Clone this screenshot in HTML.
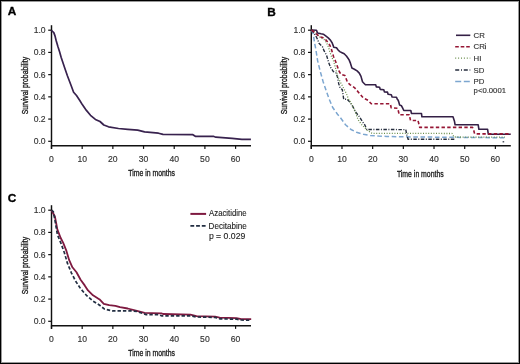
<!DOCTYPE html>
<html><head><meta charset="utf-8"><style>
html,body{margin:0;padding:0;background:#fff;}
body{width:520px;height:364px;overflow:hidden;position:relative;}
svg{position:absolute;left:0;top:0;display:block;will-change:transform;}
.tk{font-family:"Liberation Sans", sans-serif;font-size:8.6px;fill:#333;stroke:#333;stroke-width:0.15px;}
.ti{font-family:"Liberation Sans", sans-serif;font-size:9.7px;fill:#1a1a1a;stroke:#1a1a1a;stroke-width:0.34px;}
.lg{font-family:"Liberation Sans", sans-serif;font-size:7.8px;fill:#333;stroke:#333;stroke-width:0.15px;}
.lg2{font-family:"Liberation Sans", sans-serif;font-size:8.4px;fill:#222;stroke:#222;stroke-width:0.12px;}
.ty{font-size:9px;}
.lab{font-family:"Liberation Sans", sans-serif;font-size:11.8px;font-weight:bold;fill:#000;stroke:#000;stroke-width:0.35px;}
</style></head><body>
<svg width="520" height="364" viewBox="0 0 520 364">
<text x="7.7" y="15.4" class="lab">A</text>
<text x="267.3" y="15.6" class="lab">B</text>
<text x="7.8" y="201.8" class="lab">C</text>
<line x1="51.5" y1="25.2" x2="51.5" y2="148.9" stroke="#111" stroke-width="1.45"/>
<line x1="50.9" y1="145.8" x2="251.0" y2="145.8" stroke="#111" stroke-width="1.6"/>
<line x1="48.2" y1="141.30" x2="51.5" y2="141.30" stroke="#111" stroke-width="1.2"/>
<text x="45.6" y="144.30" text-anchor="end" class="tk">0.0</text>
<line x1="48.2" y1="119.08" x2="51.5" y2="119.08" stroke="#111" stroke-width="1.2"/>
<text x="45.6" y="122.08" text-anchor="end" class="tk">0.2</text>
<line x1="48.2" y1="96.86" x2="51.5" y2="96.86" stroke="#111" stroke-width="1.2"/>
<text x="45.6" y="99.86" text-anchor="end" class="tk">0.4</text>
<line x1="48.2" y1="74.64" x2="51.5" y2="74.64" stroke="#111" stroke-width="1.2"/>
<text x="45.6" y="77.64" text-anchor="end" class="tk">0.6</text>
<line x1="48.2" y1="52.42" x2="51.5" y2="52.42" stroke="#111" stroke-width="1.2"/>
<text x="45.6" y="55.42" text-anchor="end" class="tk">0.8</text>
<line x1="48.2" y1="30.20" x2="51.5" y2="30.20" stroke="#111" stroke-width="1.2"/>
<text x="45.6" y="33.20" text-anchor="end" class="tk">1.0</text>
<line x1="51.50" y1="145.8" x2="51.50" y2="148.9" stroke="#111" stroke-width="1.2"/>
<text x="51.50" y="161.50" text-anchor="middle" class="tk">0</text>
<line x1="82.18" y1="145.8" x2="82.18" y2="148.9" stroke="#111" stroke-width="1.2"/>
<text x="82.18" y="161.50" text-anchor="middle" class="tk">10</text>
<line x1="112.86" y1="145.8" x2="112.86" y2="148.9" stroke="#111" stroke-width="1.2"/>
<text x="112.86" y="161.50" text-anchor="middle" class="tk">20</text>
<line x1="143.54" y1="145.8" x2="143.54" y2="148.9" stroke="#111" stroke-width="1.2"/>
<text x="143.54" y="161.50" text-anchor="middle" class="tk">30</text>
<line x1="174.22" y1="145.8" x2="174.22" y2="148.9" stroke="#111" stroke-width="1.2"/>
<text x="174.22" y="161.50" text-anchor="middle" class="tk">40</text>
<line x1="204.90" y1="145.8" x2="204.90" y2="148.9" stroke="#111" stroke-width="1.2"/>
<text x="204.90" y="161.50" text-anchor="middle" class="tk">50</text>
<line x1="235.58" y1="145.8" x2="235.58" y2="148.9" stroke="#111" stroke-width="1.2"/>
<text x="235.58" y="161.50" text-anchor="middle" class="tk">60</text>
<text x="128.2" y="175.5" class="ti" textLength="46.8" lengthAdjust="spacingAndGlyphs">Time in months</text>
<text transform="translate(27.6,114.2) rotate(-90)" class="ti ty" textLength="57.3" lengthAdjust="spacingAndGlyphs">Survival probability</text>
<line x1="311.3" y1="25.2" x2="311.3" y2="148.9" stroke="#111" stroke-width="1.45"/>
<line x1="310.7" y1="145.8" x2="510.8" y2="145.8" stroke="#111" stroke-width="1.6"/>
<line x1="308.0" y1="141.30" x2="311.3" y2="141.30" stroke="#111" stroke-width="1.2"/>
<text x="305.40000000000003" y="144.30" text-anchor="end" class="tk">0.0</text>
<line x1="308.0" y1="119.08" x2="311.3" y2="119.08" stroke="#111" stroke-width="1.2"/>
<text x="305.40000000000003" y="122.08" text-anchor="end" class="tk">0.2</text>
<line x1="308.0" y1="96.86" x2="311.3" y2="96.86" stroke="#111" stroke-width="1.2"/>
<text x="305.40000000000003" y="99.86" text-anchor="end" class="tk">0.4</text>
<line x1="308.0" y1="74.64" x2="311.3" y2="74.64" stroke="#111" stroke-width="1.2"/>
<text x="305.40000000000003" y="77.64" text-anchor="end" class="tk">0.6</text>
<line x1="308.0" y1="52.42" x2="311.3" y2="52.42" stroke="#111" stroke-width="1.2"/>
<text x="305.40000000000003" y="55.42" text-anchor="end" class="tk">0.8</text>
<line x1="308.0" y1="30.20" x2="311.3" y2="30.20" stroke="#111" stroke-width="1.2"/>
<text x="305.40000000000003" y="33.20" text-anchor="end" class="tk">1.0</text>
<line x1="311.30" y1="145.8" x2="311.30" y2="148.9" stroke="#111" stroke-width="1.2"/>
<text x="311.30" y="161.50" text-anchor="middle" class="tk">0</text>
<line x1="341.98" y1="145.8" x2="341.98" y2="148.9" stroke="#111" stroke-width="1.2"/>
<text x="341.98" y="161.50" text-anchor="middle" class="tk">10</text>
<line x1="372.66" y1="145.8" x2="372.66" y2="148.9" stroke="#111" stroke-width="1.2"/>
<text x="372.66" y="161.50" text-anchor="middle" class="tk">20</text>
<line x1="403.34" y1="145.8" x2="403.34" y2="148.9" stroke="#111" stroke-width="1.2"/>
<text x="403.34" y="161.50" text-anchor="middle" class="tk">30</text>
<line x1="434.02" y1="145.8" x2="434.02" y2="148.9" stroke="#111" stroke-width="1.2"/>
<text x="434.02" y="161.50" text-anchor="middle" class="tk">40</text>
<line x1="464.70" y1="145.8" x2="464.70" y2="148.9" stroke="#111" stroke-width="1.2"/>
<text x="464.70" y="161.50" text-anchor="middle" class="tk">50</text>
<line x1="495.38" y1="145.8" x2="495.38" y2="148.9" stroke="#111" stroke-width="1.2"/>
<text x="495.38" y="161.50" text-anchor="middle" class="tk">60</text>
<text x="396.9" y="177.4" class="ti" textLength="46.8" lengthAdjust="spacingAndGlyphs">Time in months</text>
<text transform="translate(287.40000000000003,114.2) rotate(-90)" class="ti ty" textLength="57.3" lengthAdjust="spacingAndGlyphs">Survival probability</text>
<line x1="51.5" y1="205.2" x2="51.5" y2="328.9" stroke="#111" stroke-width="1.45"/>
<line x1="50.9" y1="325.8" x2="251.0" y2="325.8" stroke="#111" stroke-width="1.6"/>
<line x1="48.2" y1="321.30" x2="51.5" y2="321.30" stroke="#111" stroke-width="1.2"/>
<text x="45.6" y="324.30" text-anchor="end" class="tk">0.0</text>
<line x1="48.2" y1="299.08" x2="51.5" y2="299.08" stroke="#111" stroke-width="1.2"/>
<text x="45.6" y="302.08" text-anchor="end" class="tk">0.2</text>
<line x1="48.2" y1="276.86" x2="51.5" y2="276.86" stroke="#111" stroke-width="1.2"/>
<text x="45.6" y="279.86" text-anchor="end" class="tk">0.4</text>
<line x1="48.2" y1="254.64" x2="51.5" y2="254.64" stroke="#111" stroke-width="1.2"/>
<text x="45.6" y="257.64" text-anchor="end" class="tk">0.6</text>
<line x1="48.2" y1="232.42" x2="51.5" y2="232.42" stroke="#111" stroke-width="1.2"/>
<text x="45.6" y="235.42" text-anchor="end" class="tk">0.8</text>
<line x1="48.2" y1="210.20" x2="51.5" y2="210.20" stroke="#111" stroke-width="1.2"/>
<text x="45.6" y="213.20" text-anchor="end" class="tk">1.0</text>
<line x1="51.50" y1="325.8" x2="51.50" y2="328.9" stroke="#111" stroke-width="1.2"/>
<text x="51.50" y="341.50" text-anchor="middle" class="tk">0</text>
<line x1="82.18" y1="325.8" x2="82.18" y2="328.9" stroke="#111" stroke-width="1.2"/>
<text x="82.18" y="341.50" text-anchor="middle" class="tk">10</text>
<line x1="112.86" y1="325.8" x2="112.86" y2="328.9" stroke="#111" stroke-width="1.2"/>
<text x="112.86" y="341.50" text-anchor="middle" class="tk">20</text>
<line x1="143.54" y1="325.8" x2="143.54" y2="328.9" stroke="#111" stroke-width="1.2"/>
<text x="143.54" y="341.50" text-anchor="middle" class="tk">30</text>
<line x1="174.22" y1="325.8" x2="174.22" y2="328.9" stroke="#111" stroke-width="1.2"/>
<text x="174.22" y="341.50" text-anchor="middle" class="tk">40</text>
<line x1="204.90" y1="325.8" x2="204.90" y2="328.9" stroke="#111" stroke-width="1.2"/>
<text x="204.90" y="341.50" text-anchor="middle" class="tk">50</text>
<line x1="235.58" y1="325.8" x2="235.58" y2="328.9" stroke="#111" stroke-width="1.2"/>
<text x="235.58" y="341.50" text-anchor="middle" class="tk">60</text>
<text x="128.2" y="355.5" class="ti" textLength="46.8" lengthAdjust="spacingAndGlyphs">Time in months</text>
<text transform="translate(27.6,294.2) rotate(-90)" class="ti ty" textLength="57.3" lengthAdjust="spacingAndGlyphs">Survival probability</text>
<polyline points="51.5,30.2 52.1,31.0 53.8,32.6 55.0,35.9 56.2,40.8 57.9,46.6 59.5,51.6 61.2,57.5 64.9,68.5 67.4,75.8 71.3,86.0 73.6,92.2 76.5,95.5 79.8,100.5 82.3,104.6 86.4,110.4 90.5,115.3 95.4,119.4 100.0,121.5 103.8,125.0 108.5,126.8 118.5,128.5 127.7,129.3 137.7,130.1 144.6,131.9 158.5,133.2 163.0,134.4 192.9,134.7 195.3,136.3 213.3,136.3 215.8,137.2 232.1,138.3 241.9,139.3 250.9,139.3" fill="none" stroke="#38224e" stroke-width="1.7" stroke-linejoin="round" stroke-linecap="butt"/>
<polyline points="311.5,30.0 313.3,34.2 314.5,42.5 315.8,49.1 317.6,60.6 320.3,71.6 323.0,81.3 325.8,89.6 329.2,99.2 332.7,107.5 337.5,114.3 340.0,117.2 343.0,121.2 345.5,124.7 351.0,129.5 356.5,132.3 363.4,134.3 370.2,135.4 378.5,136.0 386.7,136.4 400.0,136.8 452.0,137.3 505.0,137.8" fill="none" stroke="#7ca6d0" stroke-width="1.5" stroke-linejoin="round" stroke-linecap="butt" stroke-dasharray="4.6 2.6"/>
<polyline points="311.5,30.0 314.0,33.0 315.8,35.9 317.8,40.0 319.0,43.3 322.4,46.6 324.0,50.7 326.5,55.1 328.5,62.0 330.6,67.5 333.4,71.6 336.1,73.0 337.5,77.1 338.8,84.0 340.2,88.1 342.3,89.6 343.7,99.2 347.1,99.2 349.8,102.0 352.6,106.1 355.3,111.6 359.2,116.5 362.7,122.0 364.7,124.7 366.8,129.5 405.8,129.6 406.5,133.7 408.1,139.2 455.0,139.2" fill="none" stroke="#262e3e" stroke-width="1.4" stroke-linejoin="round" stroke-linecap="butt" stroke-dasharray="3.5 1.5 1 1.5"/>
<polyline points="311.5,30.0 316.0,33.0 320.3,37.5 324.0,39.4 326.4,42.5 328.0,45.8 329.3,49.9 330.6,54.0 331.5,56.5 333.4,60.6 335.4,67.5 337.5,75.7 340.2,82.0 343.0,87.0 346.4,93.7 348.5,99.2 351.2,103.4 355.3,111.6 358.1,119.8 362.0,125.0 367.0,130.0 372.0,133.3 452.0,133.5 454.0,137.0 505.0,137.2" fill="none" stroke="#6a8e4c" stroke-width="1.3" stroke-linejoin="round" stroke-linecap="butt" stroke-dasharray="1 1.6"/>
<polyline points="311.5,30.0 316.5,30.2 317.5,33.0 321.0,33.8 323.3,34.2 326.0,36.2 328.2,37.9 330.4,40.1 332.1,42.8 333.2,45.6 333.7,47.2 336.5,47.8 338.1,50.0 339.8,51.6 342.0,52.7 344.2,53.8 346.4,56.0 348.0,58.2 349.1,59.9 350.2,62.6 351.3,65.9 351.9,68.0 354.4,69.2 357.1,70.9 359.3,73.1 361.0,76.4 362.5,81.8 363.4,82.7 365.4,84.7 375.7,84.7 376.3,86.9 379.6,87.2 380.2,89.4 383.8,89.7 384.4,91.9 387.5,92.1 388.1,94.3 391.3,94.7 392.1,97.0 396.5,97.2 397.3,99.3 398.1,100.1 398.8,102.0 399.6,105.1 401.5,105.8 402.7,108.2 403.8,110.5 410.8,110.5 411.5,113.5 421.5,113.5 421.9,116.8 453.0,116.8 454.4,120.9 455.1,124.8 478.2,124.8 478.9,129.3 487.6,129.3 488.3,134.2 510.7,134.2" fill="none" stroke="#342046" stroke-width="1.6" stroke-linejoin="round" stroke-linecap="butt"/>
<polyline points="311.5,30.0 315.0,32.6 319.4,36.7 322.7,37.6 326.0,40.0 328.0,42.5 329.7,45.0 331.2,48.5 332.2,52.0 333.5,56.5 335.4,61.0 337.4,66.5 339.0,71.0 340.9,74.3 344.9,75.5 347.4,82.1 349.9,84.6 354.8,87.9 359.0,92.9 363.1,97.8 368.0,100.3 371.3,103.8 390.3,103.8 391.2,107.8 397.7,108.3 398.6,112.0 399.2,114.7 409.3,114.7 410.5,120.5 418.0,120.5 419.7,127.4 472.5,127.4 473.9,131.0 474.6,133.9 511.0,133.9" fill="none" stroke="#961634" stroke-width="1.6" stroke-linejoin="round" stroke-linecap="butt" stroke-dasharray="3.4 2.3"/>
<line x1="502.6" y1="141.8" x2="504.2" y2="141.8" stroke="#262e3e" stroke-width="1.2"/>
<polyline points="51.5,210.2 54.9,216.5 57.4,229.7 60.7,238.0 63.2,242.9 66.5,251.2 69.1,259.9 72.4,267.3 76.5,272.3 80.6,279.7 84.7,285.4 88.0,290.4 93.0,295.3 99.6,299.4 103.8,303.8 109.2,305.1 115.4,305.8 120.0,307.2 127.7,308.5 136.9,310.8 144.6,312.8 152.3,313.1 161.5,313.4 163.1,314.0 190.4,314.6 196.5,316.2 215.0,316.6 219.6,317.7 236.5,318.2 241.2,319.2 251.2,319.2" fill="none" stroke="#7e1a40" stroke-width="1.8" stroke-linejoin="round" stroke-linecap="butt"/>
<polyline points="51.5,210.2 53.3,211.6 55.2,221.5 57.4,234.7 60.8,242.9 64.4,252.8 67.4,263.2 71.5,273.1 75.7,281.3 80.6,288.7 86.4,295.3 93.0,301.1 99.6,305.2 104.6,309.2 112.3,310.8 130.8,310.8 136.9,311.5 146.2,314.6 158.5,314.6 161.5,315.8 190.4,315.8 196.5,317.0 215.0,317.4 219.6,318.8 236.5,319.2 241.2,320.0 251.2,320.3" fill="none" stroke="#222e42" stroke-width="1.7" stroke-linejoin="round" stroke-linecap="butt" stroke-dasharray="3.4 2"/>
<line x1="456.0" y1="35.3" x2="470.3" y2="35.3" stroke="#342046" stroke-width="1.6"/>
<text x="473.6" y="37.8" class="lg">CR</text>
<line x1="455.2" y1="46.7" x2="470.3" y2="46.7" stroke="#961634" stroke-width="1.6" stroke-dasharray="3.6 1.9"/>
<text x="473.6" y="49.2" class="lg">CR</text>
<rect x="484.9" y="45.2" width="0.95" height="4.0" fill="#333"/>
<rect x="484.9" y="43.2" width="0.95" height="1.0" fill="#333"/>
<line x1="455.2" y1="58.2" x2="470.3" y2="58.2" stroke="#6a8e4c" stroke-width="1.2" stroke-dasharray="1 1.9"/>
<text x="473.6" y="60.7" class="lg">HI</text>
<line x1="455.2" y1="70.0" x2="470.3" y2="70.0" stroke="#262e3e" stroke-width="1.5" stroke-dasharray="4 1.8 1 1.8"/>
<text x="473.6" y="72.5" class="lg">SD</text>
<line x1="455.2" y1="81.4" x2="470.3" y2="81.4" stroke="#7ca6d0" stroke-width="1.5" stroke-dasharray="6 2.6"/>
<text x="473.6" y="83.9" class="lg">PD</text>
<text x="473.6" y="93.4" class="lg" textLength="32.4" lengthAdjust="spacingAndGlyphs">p&lt;0.0001</text>
<line x1="190.4" y1="213.9" x2="206.1" y2="213.9" stroke="#7e1a40" stroke-width="2"/>
<text x="209.1" y="216.4" class="lg2" textLength="37.6" lengthAdjust="spacingAndGlyphs">Azacitidine</text>
<line x1="190.4" y1="225.9" x2="205.6" y2="225.9" stroke="#222e42" stroke-width="1.7" stroke-dasharray="3.8 1.9"/>
<text x="208.6" y="228.6" class="lg2" textLength="38.2" lengthAdjust="spacingAndGlyphs">Decitabine</text>
<text x="208.9" y="238.8" class="lg2" textLength="36.4" lengthAdjust="spacingAndGlyphs">p = 0.029</text>
<g shape-rendering="crispEdges">
<rect x="0" y="0" width="520" height="1" fill="#000"/><rect x="0" y="363" width="520" height="1" fill="#000"/>
<rect x="0" y="0" width="1" height="364" fill="#000"/><rect x="519" y="0" width="1" height="364" fill="#000"/>
<rect x="1" y="1" width="518" height="1" fill="#000" fill-opacity="0.4"/><rect x="1" y="362" width="518" height="1" fill="#000" fill-opacity="0.4"/>
<rect x="1" y="2" width="1" height="360" fill="#000" fill-opacity="0.4"/><rect x="518" y="2" width="1" height="360" fill="#000" fill-opacity="0.4"/>
</g>
</svg>
</body></html>
